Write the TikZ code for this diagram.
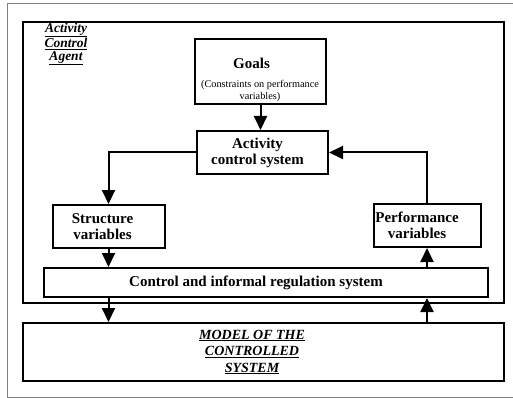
\documentclass[tikz,border=0pt]{standalone}
\usepackage{fontspec}
\setmainfont{Liberation Serif}
\usetikzlibrary{arrows.meta, positioning}

% text pushed left inside its box
\newcommand{\padr}[2]{\hbox{#2\kern#1}}

\begin{document}
\begin{tikzpicture}[
    x=1pt, y=-1pt,
    box/.style={rectangle, draw, line width=2pt, inner sep=0pt, align=center, font=\fontsize{15}{16}\selectfont\bfseries},
    arrow/.style={-{Triangle[length=14pt, width=13pt]}, line width=2pt},
    title/.style={align=center, font=\fontsize{13.5}{13}\selectfont\bfseries\itshape},
]
\useasboundingbox (0,0) rectangle (513,398);
\draw[gray, line width=0.9pt] (513,3) -- (7,3) -- (7,397) -- (513,397);

% agent frame
\node[box, minimum width=481pt, minimum height=281pt] (agent) at (263.5,162.5) {};
\node[title] (agentname) at (66,44) {\underline{Activity}\\\underline{Control}\\\underline{Agent}};

\node[box, minimum width=131pt, minimum height=65pt] (goals) at (260.5,71.5) {};
\node[font=\fontsize{15}{16}\selectfont\bfseries] (goalsname) at (251.5,63) {Goals};
\node[align=center, font=\fontsize{10.3}{12}\selectfont] (goalsnote) at (260,91) {(Constraints on performance\\variables)};

\node[box, minimum width=131pt, minimum height=43pt] (activity) at (262.5,152.5) {\padr{10pt}{Activity}\\\padr{10pt}{control system}};
\node[box, minimum width=112pt, minimum height=43pt] (structure) at (108.5,226.5) {\padr{12pt}{Structure}\\\padr{12pt}{variables}};
\node[box, minimum width=107pt, minimum height=43pt] (perf) at (427,225.5) {\padr{20pt}{Performance}\\\padr{20pt}{variables}};
\node[box, minimum width=444pt, minimum height=29pt] (control) at (266,282.5) {\padr{20pt}{Control and informal regulation system}};

% controlled system
\node[box, minimum width=481pt, minimum height=58pt, font=\fontsize{14}{16.5}\selectfont\bfseries\itshape] (model) at (263.5,352)
    {\padr{23pt}{\underline{MODEL OF THE}}\\\padr{23pt}{\underline{CONTROLLED}}\\\padr{23pt}{\underline{SYSTEM}}};

\draw[arrow] (goals.south) -- (goals.south |- activity.north);
\draw[arrow] (activity.west) -| (structure.north);
\draw[arrow] (structure.south) -- (structure.south |- control.north);
\draw[arrow] (structure.south |- control.south) -- (structure.south |- model.north);
\draw[arrow] (perf.south |- model.north) -- (perf.south |- control.south);
\draw[arrow] (perf.south |- control.north) -- (perf.south);
\draw[arrow] (perf.north) |- (activity.east);

\end{tikzpicture}
\end{document}
